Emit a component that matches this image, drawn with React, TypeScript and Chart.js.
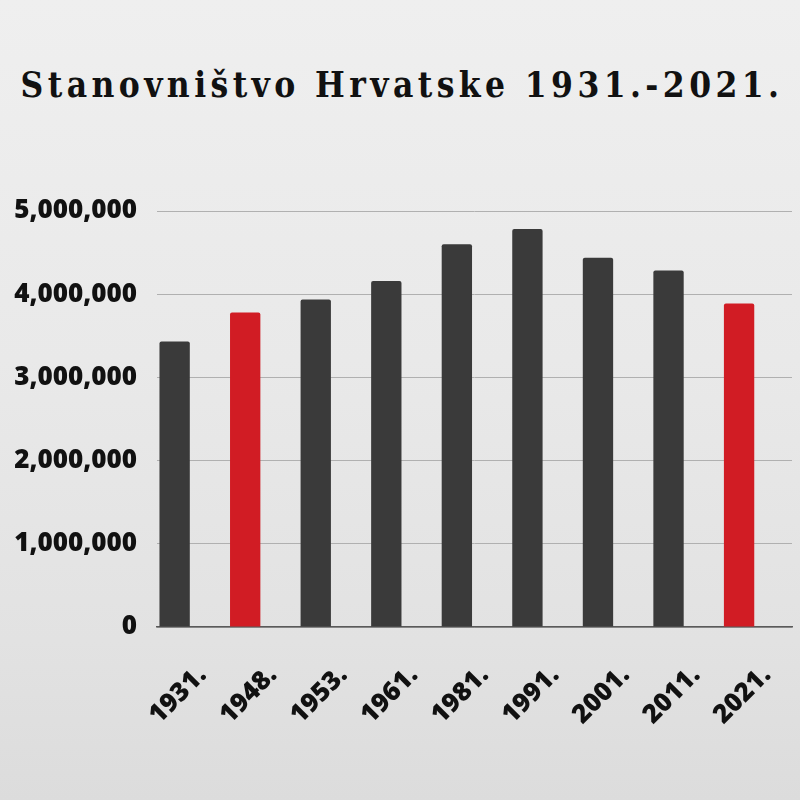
import React, { useEffect, useRef } from 'react';
import { Chart, ChartConfiguration, registerables } from 'chart.js';

Chart.register(...registerables);

const years = ['1931.', '1948.', '1953.', '1961.', '1981.', '1991.', '2001.', '2011.', '2021.'];
const population = [3430270, 3779858, 3936022, 4159696, 4601469, 4784265, 4437460, 4284889, 3888529];
const highlighted = ['1948.', '2021.'];
const yTicks = [0, 1000000, 2000000, 3000000, 4000000, 5000000];

const DARK = '#3a3a3a';
const RED = '#d11c24';

const PopulationChart: React.FC = () => {
  const canvasRef = useRef<HTMLCanvasElement | null>(null);
  const chartRef = useRef<Chart | null>(null);

  useEffect(() => {
    if (!canvasRef.current) return;

    const config: ChartConfiguration = {
      type: 'bar',
      data: {
        labels: years,
        datasets: [
          {
            data: population,
            backgroundColor: years.map((y) => (highlighted.includes(y) ? RED : DARK)),
            borderRadius: { topLeft: 2, topRight: 2 },
            borderSkipped: 'bottom',
            barPercentage: 0.86,
            categoryPercentage: 1
          },
          // empty dataset, only there to push the real bars to the left of each slot
          {
            data: years.map(() => null),
            barPercentage: 0.86,
            categoryPercentage: 1
          }
        ]
      },
      options: {
        animation: false,
        responsive: false,
        layout: { padding: { top: 211, right: 8, left: 0, bottom: 0 } },
        plugins: {
          legend: { display: false },
          tooltip: { enabled: false },
          title: { display: false }
        },
        scales: {
          x: {
            grid: { display: false, drawTicks: false },
            border: { display: true, color: '#5a5a5a', width: 1.5 },
            ticks: {
              color: '#111',
              font: { family: 'Open Sans', size: 26, weight: 800 },
              minRotation: 45,
              maxRotation: 45,
              padding: 33,
              labelOffset: 10
            },
            afterFit: (scale: any) => {
              scale.height = 173;
              // the rotated labels should not shrink the plot area
              scale.paddingLeft = 0;
              scale.paddingRight = 0;
            }
          },
          y: {
            min: 0,
            max: 5000000,
            afterBuildTicks: (scale: any) => {
              scale.ticks = yTicks.map((v) => ({ value: v }));
            },
            afterFit: (scale: any) => {
              scale.width = 157;
              scale.paddingTop = 0;
              scale.paddingBottom = 0;
            },
            grid: { color: '#b0b0b0', lineWidth: 1, drawTicks: false },
            border: { display: false },
            ticks: {
              color: '#111',
              padding: 20,
              font: { family: 'Open Sans', size: 26, weight: 800 },
              callback: (v: any) => Number(v).toLocaleString('en-US')
            }
          }
        }
      }
    };

    chartRef.current = new Chart(canvasRef.current, config);

    return () => {
      if (chartRef.current) {
        chartRef.current.destroy();
        chartRef.current = null;
      }
    };
  }, []);

  return (
    <canvas
      ref={canvasRef}
      width={800}
      height={800}
      style={{ position: 'absolute', left: 0, top: 0, width: '800px', height: '800px' }}
    />
  );
};

export default function App() {
  return (
    <div
      style={{
        position: 'fixed',
        left: 0,
        top: 0,
        width: '800px',
        height: '800px',
        overflow: 'hidden',
        background: 'linear-gradient(180deg, #efefef 0%, #e9e9e9 45%, #e2e2e2 80%, #dcdcdc 100%)'
      }}
    >
      <div
        style={{
          position: 'absolute',
          left: 2,
          top: 64,
          width: '800px',
          textAlign: 'center',
          fontFamily: '"DejaVu Serif Condensed", "DejaVu Serif", serif',
          fontWeight: 'bold',
          fontSize: '35px',
          letterSpacing: '4.4px',
          color: '#111'
        }}
      >
        Stanovništvo Hrvatske 1931.-2021.
      </div>
      <PopulationChart />
    </div>
  );
}
